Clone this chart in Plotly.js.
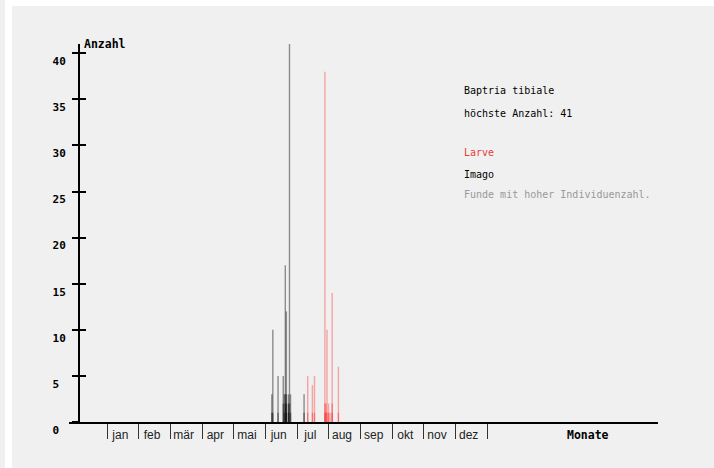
<!DOCTYPE html>
<html>
<head>
<meta charset="utf-8">
<script src="https://cdn.plot.ly/plotly-3.0.1.min.js"></script>
<style>
  html, body { margin:0; padding:0; background:#ffffff; width:714px; height:468px; overflow:hidden; }
  #strip { position:absolute; left:0; top:0; width:5px; height:468px; background:#f0f0f0; }
  #panel { position:absolute; left:12px; top:6px; width:702px; height:462px; background:#f0f0f0; }
  #chart { position:absolute; left:0; top:0; width:714px; height:468px; }
</style>
</head>
<body>
<div id="strip"></div>
<div id="panel"></div>
<div id="chart"></div>
<script>
// ---- data (day of year, individuals per find) ----
const imagoDay   = [158,158,159,159,164,164,169,169,170,170,171,171,171,172,172,172,172,174,174,174,175,175,176,176,189,189];
const imagoCount = [3,1,10,1,5,1,5,2,3,1,17,3,2,12,3,2,1,3,2,1,41,2,3,1,3,1];
const larveDay   = [192.5,192.5,197,197,199,199,209,209,209,210,210,211,211,212.5,212.5,214,216,216,216,222,222];
const larveCount = [5,1,4,1,5,1,38,2,1,2,1,10,1,2,1,1,14,2,1,6,1];

const months = ['jan','feb','mär','apr','mai','jun','jul','aug','sep','okt','nov','dez'];
const yTickValues = [0,5,10,15,20,25,30,35,40];
const yTickLabels = ['0','5','10','15','20','25','30','35','40'];

const speciesName = 'Baptria tibiale';
const maxCount = 41;

// ---- derived ----
const monthLen = 365/12;
const monthTickVals = [];
for (let i = 0; i <= 12; i++) monthTickVals.push(i*monthLen);
const monthTickText = months.concat(['']);
const yText = yTickLabels.map(s => s.length < 2 ? s + '\u00A0' : s);

const mono = 'DejaVu Sans Mono, monospace';

const traces = [
  { type:'bar', x:imagoDay, y:imagoCount, width:1.35,
    marker:{color:'rgba(0,0,0,0.42)', line:{width:0}}, hoverinfo:'skip', showlegend:false },
  { type:'bar', x:larveDay, y:larveCount, width:1.35,
    marker:{color:'rgba(255,0,0,0.32)', line:{width:0}}, hoverinfo:'skip', showlegend:false },
  { type:'scatter', x:[0], y:[0], yaxis:'y2', mode:'none', hoverinfo:'skip', showlegend:false }
];

const layout = {
  width:714, height:468,
  margin:{l:69, r:56, t:44, b:46, pad:0},
  paper_bgcolor:'rgba(0,0,0,0)',
  plot_bgcolor:'rgba(0,0,0,0)',
  barmode:'overlay',
  showlegend:false,
  xaxis:{
    range:[-36.79, 528.96], showgrid:false, zeroline:false,
    showline:true, linecolor:'#000', linewidth:2,
    tickmode:'array', tickvals:monthTickVals, ticktext:monthTickText,
    ticks:'outside', ticklen:15, tickwidth:1, tickcolor:'#333',
    ticklabelshift:13, ticklabelstandoff:-14,
    tickfont:{family:'Liberation Sans, Arial, sans-serif', size:12, color:'#222'}
  },
  yaxis:{
    range:[0,41], anchor:'free', position:0.017, showgrid:false, zeroline:false,
    showline:true, linecolor:'#000', linewidth:2,
    tickmode:'array', tickvals:yTickValues, ticktext:yText,
    ticks:'outside', ticklen:6, tickwidth:2, tickcolor:'#000',
    ticklabelshift:8, ticklabelstandoff:4,
    tickfont:{family:mono, size:11, color:'#000', weight:'bold'}
  },
  yaxis2:{
    range:[0,41], overlaying:'y', anchor:'free', position:0.017, showgrid:false, zeroline:false,
    showline:false, tickmode:'array', tickvals:yTickValues.slice(1),
    ticks:'inside', ticklen:6, tickwidth:2, tickcolor:'#000', showticklabels:false
  },
  annotations:[
    {text:'Anzahl', xref:'paper', yref:'paper', x:0.022, y:1.0, xanchor:'left', yanchor:'middle', showarrow:false,
     font:{family:mono, size:11.5, color:'#000', weight:'bold'}},
    {text:'Monate', xref:'paper', yref:'paper', x:0.842, y:-0.034, xanchor:'left', yanchor:'middle', showarrow:false,
     font:{family:mono, size:11.5, color:'#000', weight:'bold'}},
    {text:speciesName, xref:'paper', yref:'paper', x:0.667, y:0.876, xanchor:'left', yanchor:'middle', showarrow:false,
     font:{family:mono, size:10, color:'#000'}},
    {text:'höchste Anzahl: ' + maxCount, xref:'paper', yref:'paper', x:0.667, y:0.817, xanchor:'left', yanchor:'middle', showarrow:false,
     font:{family:mono, size:10, color:'#000'}},
    {text:'Larve', xref:'paper', yref:'paper', x:0.667, y:0.712, xanchor:'left', yanchor:'middle', showarrow:false,
     font:{family:mono, size:10, color:'#e83c3c'}},
    {text:'Imago', xref:'paper', yref:'paper', x:0.667, y:0.656, xanchor:'left', yanchor:'middle', showarrow:false,
     font:{family:mono, size:10, color:'#000'}},
    {text:'Funde mit hoher Individuenzahl.', xref:'paper', yref:'paper', x:0.667, y:0.601, xanchor:'left', yanchor:'middle', showarrow:false,
     font:{family:mono, size:10, color:'#999'}}
  ]
};

Plotly.newPlot('chart', traces, layout, {staticPlot:true, displayModeBar:false});
</script>
</body>
</html>
